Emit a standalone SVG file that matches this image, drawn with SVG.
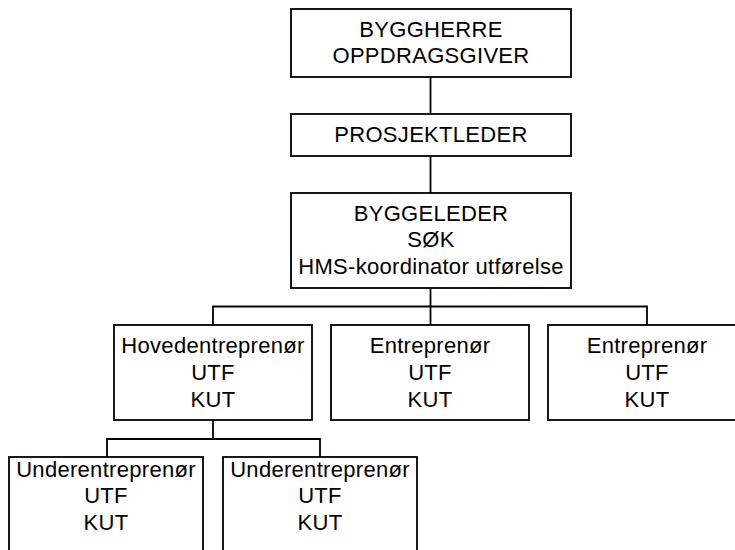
<svg xmlns="http://www.w3.org/2000/svg" width="735" height="550" viewBox="0 0 735 550">
<style>
rect{fill:#fff;stroke:#000;stroke-width:1.8}
.c line,.c path{stroke:#000;stroke-width:1.8;fill:none}
text{font-family:"Liberation Sans",Arial,sans-serif;font-size:22px;letter-spacing:0.3px;text-anchor:middle;fill:#000}
</style>
<rect x="0" y="0" width="735" height="550" style="stroke:none"/>
<g class="c" id="connectors">
<line x1="430.5" y1="77" x2="430.5" y2="114"/>
<line x1="430.5" y1="156" x2="430.5" y2="193"/>
<line x1="430.5" y1="288" x2="430.5" y2="325"/>
<path d="M213,325 V306.5 H647 V325"/>
<line x1="213" y1="420" x2="213" y2="439"/>
<path d="M107,457 V439 H320 V457"/>
</g>
<g id="byggherre"><rect x="291" y="9" width="280" height="68"/><text x="431" y="36.5">BYGGHERRE</text><text x="431" y="63.3">OPPDRAGSGIVER</text></g>
<g id="prosjektleder"><rect x="291" y="114" width="280" height="42"/><text x="431" y="141.7">PROSJEKTLEDER</text></g>
<g id="byggeleder"><rect x="291" y="193" width="280" height="95"/><text x="431" y="220.7">BYGGELEDER</text><text x="431" y="247.3">SØK</text><text x="431" y="274">HMS-koordinator utførelse</text></g>
<g id="hoved"><rect x="114" y="325" width="198" height="95"/><text x="213" y="353.3">Hovedentreprenør</text><text x="213" y="380">UTF</text><text x="213" y="406.7">KUT</text></g>
<g id="entr1"><rect x="331" y="325" width="198" height="95"/><text x="430" y="353.3">Entreprenør</text><text x="430" y="380">UTF</text><text x="430" y="406.7">KUT</text></g>
<g id="entr2"><rect x="548" y="325" width="198" height="95"/><text x="647" y="353.3">Entreprenør</text><text x="647" y="380">UTF</text><text x="647" y="406.7">KUT</text></g>
<g id="under1"><rect x="9" y="457" width="194" height="100"/><text x="106" y="476.7">Underentreprenør</text><text x="106" y="503.3">UTF</text><text x="106" y="530">KUT</text></g>
<g id="under2"><rect x="223" y="457" width="194" height="100"/><text x="320" y="476.7">Underentreprenør</text><text x="320" y="503.3">UTF</text><text x="320" y="530">KUT</text></g>
</svg>
